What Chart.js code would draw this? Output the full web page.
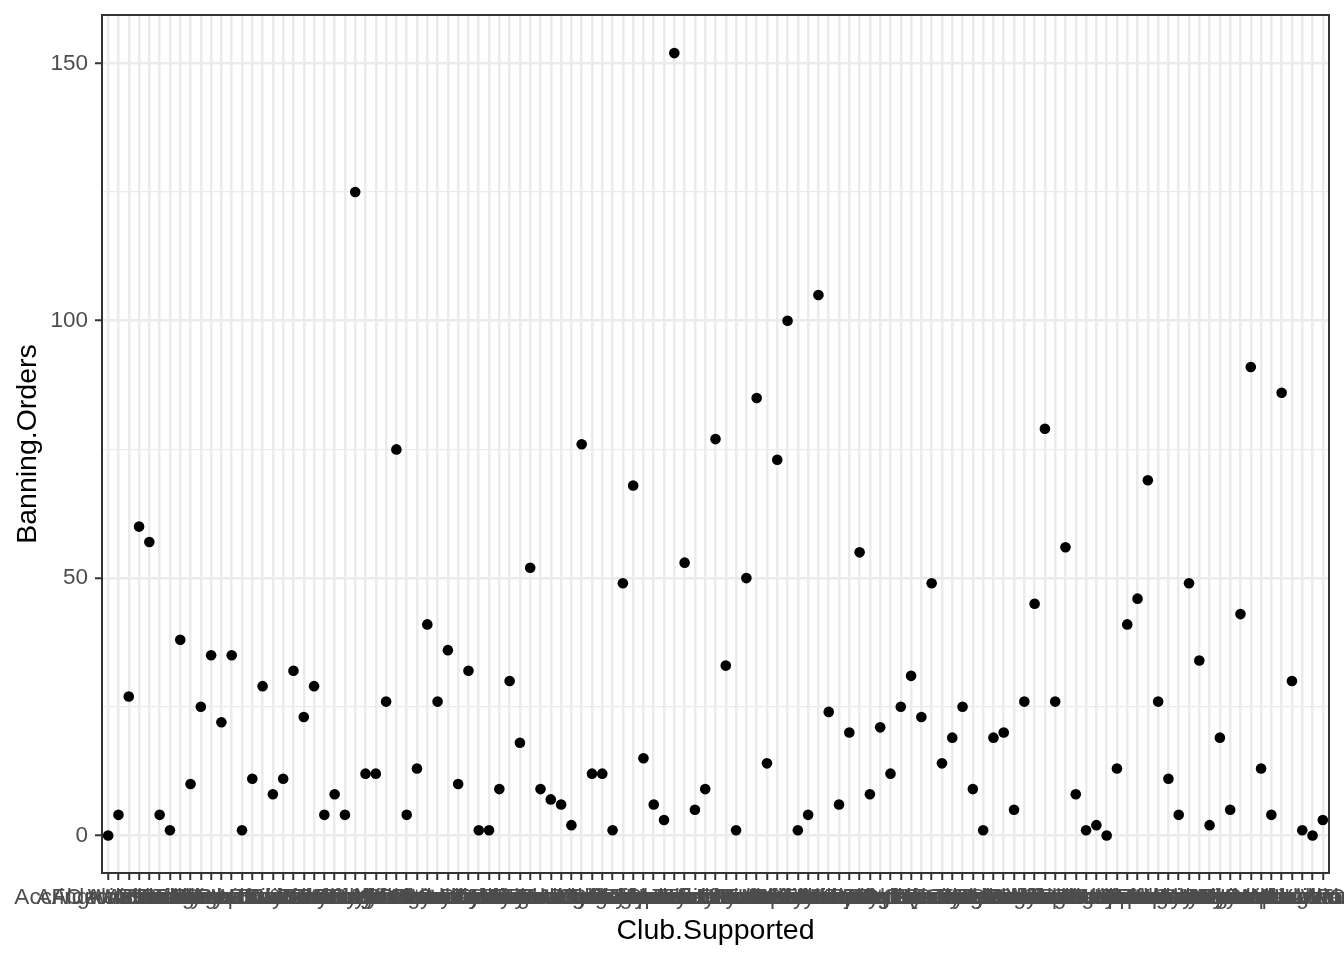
<!DOCTYPE html>
<html>
<head>
<meta charset="utf-8">
<script src="https://cdn.jsdelivr.net/npm/chart.js@4"></script>
<style>
  body { margin: 0; background: #fff; }
  #wrap { width: 1344px; height: 960px; }
</style>
</head>
<body>
<div id="wrap"><canvas id="chart"></canvas></div>
<script>
// clubs in alphabetical order, one point per club
const clubs = [
  "Accrington Stanley", "AFC Wimbledon", "Aldershot Town", "Altrincham", "Arsenal",
  "Aston Villa", "Barnet", "Barnsley", "Barrow", "Birmingham City",
  "Blackburn Rovers", "Blackpool", "Bolton Wanderers", "Boston United", "Bournemouth",
  "Bradford City", "Braintree Town", "Brentford", "Brighton & Hove Albion", "Bristol City",
  "Bristol Rovers", "Bromley", "Burnley", "Burton Albion", "Bury",
  "Cambridge United", "Cardiff City", "Carlisle United", "Charlton Athletic", "Chelsea",
  "Cheltenham Town", "Chester", "Chesterfield", "Colchester United", "Coventry City",
  "Crawley Town", "Crewe Alexandra", "Crystal Palace", "Dagenham & Redbridge", "Darlington",
  "Derby County", "Doncaster Rovers", "Dover Athletic", "Eastleigh", "Everton",
  "Exeter City", "Fleetwood Town", "Forest Green Rovers", "Fulham", "Gateshead",
  "Gillingham", "Grimsby Town", "Guiseley", "Halifax Town", "Hartlepool United",
  "Hereford", "Huddersfield Town", "Hull City", "Ipswich Town", "Kidderminster Harriers",
  "Leeds United", "Leicester City", "Leyton Orient", "Lincoln City", "Liverpool",
  "Luton Town", "Macclesfield Town", "Manchester City", "Manchester United", "Mansfield Town",
  "Middlesbrough", "Millwall", "Milton Keynes Dons", "Morecambe", "Newcastle United",
  "Newport County", "Northampton Town", "Norwich City", "Nottingham Forest", "Notts County",
  "Nuneaton Town", "Oldham Athletic", "Oxford United", "Peterborough United", "Plymouth Argyle",
  "Port Vale", "Portsmouth", "Preston North End", "Queens Park Rangers", "Reading",
  "Rochdale", "Rotherham United", "Scunthorpe United", "Sheffield United", "Sheffield Wednesday",
  "Shrewsbury Town", "Southampton", "Southend United", "Southport", "Stevenage",
  "Stockport County", "Stoke City", "Sunderland", "Swansea City", "Swindon Town",
  "Torquay United", "Tottenham Hotspur", "Tranmere Rovers", "Walsall", "Watford",
  "West Bromwich Albion", "West Ham United", "Wigan Athletic", "Woking", "Wolverhampton Wanderers",
  "Wrexham", "Wycombe Wanderers", "Yeovil Town", "York City"
];

const banningOrders = [
  0, 4, 27, 60, 57, 4, 1, 38, 10, 25,
  35, 22, 35, 1, 11, 29, 8, 11, 32, 23,
  29, 4, 8, 4, 125, 12, 12, 26, 75, 4,
  13, 41, 26, 36, 10, 32, 1, 1, 9, 30,
  18, 52, 9, 7, 6, 2, 76, 12, 12, 1,
  49, 68, 15, 6, 3, 152, 53, 5, 9, 77,
  33, 1, 50, 85, 14, 73, 100, 1, 4, 105,
  24, 6, 20, 55, 8, 21, 12, 25, 31, 23,
  49, 14, 19, 25, 9, 1, 19, 20, 5, 26,
  45, 79, 26, 56, 8, 1, 2, 0, 13, 41,
  46, 69, 26, 11, 4, 49, 34, 2, 19, 5,
  43, 91, 13, 4, 86, 30, 1, 0, 3
];

const yTicks = [0, 25, 50, 75, 100, 125, 150];
const yLabels = [0, 50, 100, 150];

const points = clubs.map((c, i) => ({ x: i, y: banningOrders[i] }));

// box round the panel, like theme_bw
const panelBorder = {
  id: "panelBorder",
  afterDraw(chart) {
    const { ctx, chartArea: a } = chart;
    ctx.save();
    ctx.strokeStyle = "#333333";
    ctx.lineWidth = 2;
    ctx.strokeRect(a.left, a.top, a.right - a.left, a.bottom - a.top);
    ctx.restore();
  }
};

// labels may spill past the panel, as in ggplot
function noEdgePadding(s) {
  s.paddingLeft = 0;
  s.paddingRight = 0;
  s.paddingTop = 0;
  s.paddingBottom = 0;
}

const font = "'Liberation Sans', Arial, sans-serif";

new Chart(document.getElementById("chart"), {
  type: "scatter",
  data: {
    datasets: [{
      data: points,
      backgroundColor: "#000000",
      borderWidth: 0,
      pointRadius: 5.3,
      pointHoverRadius: 5.3
    }]
  },
  options: {
    responsive: true,
    maintainAspectRatio: false,
    animation: false,
    devicePixelRatio: 1,
    layout: { padding: { top: 15, right: 15, left: 0, bottom: 0 } },
    plugins: { legend: { display: false }, tooltip: { enabled: false } },
    scales: {
      x: {
        type: "linear",
        min: -0.6,
        max: clubs.length - 0.4,
        afterBuildTicks: s => { s.ticks = clubs.map((c, i) => ({ value: i })); },
        afterFit: s => { s.height = 87; noEdgePadding(s); },
        border: { display: false },
        grid: {
          color: "#EBEBEB",
          lineWidth: 2.5,
          tickColor: "#333333",
          tickLength: 7,
          tickWidth: 2
        },
        ticks: {
          autoSkip: false,
          maxRotation: 0,
          minRotation: 0,
          padding: 4,
          color: "#4D4D4D",
          font: { family: font, size: 22.5 },
          callback: v => clubs[v]
        },
        title: {
          display: true,
          text: "Club.Supported",
          color: "#000000",
          font: { family: font, size: 28.5 },
          padding: { top: 0, bottom: 11.5 }
        }
      },
      y: {
        min: -7.3,
        max: 159.4,
        afterBuildTicks: s => { s.ticks = yTicks.map(v => ({ value: v })); },
        afterFit: s => { s.width = 102; noEdgePadding(s); },
        border: { display: false },
        grid: {
          color: "#EBEBEB",
          lineWidth: c => yLabels.includes(c.tick.value) ? 2.5 : 1.3,
          tickColor: c => yLabels.includes(c.tick.value) ? "#333333" : "rgba(0,0,0,0)",
          tickLength: 7,
          tickWidth: 2
        },
        ticks: {
          padding: 7,
          color: "#4D4D4D",
          font: { family: font, size: 22.5 },
          callback: v => yLabels.includes(v) ? String(v) : ""
        },
        title: {
          display: true,
          text: "Banning.Orders",
          color: "#000000",
          font: { family: font, size: 28.5 },
          padding: { top: 11, bottom: 0 }
        }
      }
    }
  },
  plugins: [panelBorder]
});
</script>
</body>
</html>
